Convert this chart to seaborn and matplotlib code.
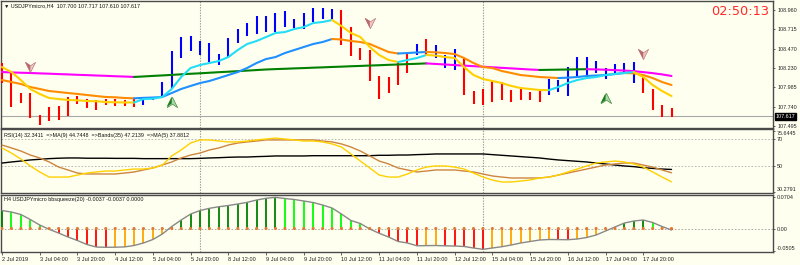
import numpy as np
import matplotlib
matplotlib.use("Agg")
import matplotlib.pyplot as plt
import seaborn as sns
from matplotlib.path import Path
from matplotlib import transforms

# ---------------- data ----------------
bar_high = [108.291, 108.177, 107.912, 107.912, 107.634, 107.735, 107.748, 107.862, 107.874, 107.836,
            107.824, 107.836, 107.836, 107.824, 107.836, 107.862, 107.862, 108.051, 108.442, 108.619,
            108.632, 108.569, 108.543, 108.404, 108.606, 108.720, 108.796, 108.884, 108.884, 108.922,
            108.947, 108.846, 108.922, 108.985, 108.985, 108.972, 108.960, 108.745, 108.480, 108.455,
            108.127, 108.114, 108.316, 108.417, 108.531, 108.594, 108.518, 108.392, 108.467, 108.354,
            107.937, 107.963, 108.076, 108.051, 107.950, 107.963, 107.925, 107.937, 108.089, 108.076,
            108.240, 108.366, 108.366, 108.316, 108.228, 108.278, 108.291, 108.303, 108.114, 107.963,
            107.760, 107.717]
bar_low = [108.038, 107.735, 107.786, 107.596, 107.508, 107.559, 107.571, 107.622, 107.773, 107.723,
           107.697, 107.760, 107.748, 107.748, 107.735, 107.760, 107.824, 107.862, 107.975, 108.354,
           108.442, 108.392, 108.303, 108.266, 108.366, 108.543, 108.632, 108.657, 108.682, 108.682,
           108.745, 108.733, 108.720, 108.809, 108.846, 108.834, 108.518, 108.379, 108.329, 108.064,
           107.836, 107.912, 108.013, 108.165, 108.392, 108.392, 108.354, 108.228, 108.203, 107.887,
           107.773, 107.760, 107.798, 107.824, 107.798, 107.824, 107.824, 107.798, 107.887, 107.925,
           107.874, 108.114, 108.114, 108.165, 108.089, 108.165, 108.165, 108.038, 107.912, 107.697,
           107.609, 107.610]
bar_dir = [-1] * 15 + [1] * 21 + [-1] * 8 + [1, -1, 1, 1, 1] + [-1] * 9 + [1] * 10 + [-1] * 4

ma_fast = [108.240, 108.177, 108.076, 107.963, 107.900, 107.849, 107.836, 107.824, 107.820, 107.811,
           107.808, 107.798, 107.795, 107.793, 107.792, 107.836, 107.840, 107.862, 107.963, 108.114,
           108.228, 108.266, 108.291, 108.316, 108.366, 108.455, 108.531, 108.569, 108.619, 108.670,
           108.682, 108.720, 108.745, 108.796, 108.809, 108.834, 108.758, 108.670, 108.619, 108.493,
           108.392, 108.329, 108.303, 108.329, 108.354, 108.392, 108.385, 108.366, 108.354, 108.240,
           108.139, 108.089, 108.064, 108.038, 108.001, 107.975, 107.963, 107.950, 107.948, 107.988,
           108.038, 108.076, 108.101, 108.114, 108.139, 108.152, 108.165, 108.177, 108.114, 108.013,
           107.937, 107.874]
ma_mid = [108.076, 108.051, 108.026, 107.988, 107.963, 107.937, 107.925, 107.912, 107.900, 107.887,
          107.874, 107.862, 107.858, 107.849, 107.845, 107.851, 107.855, 107.862, 107.912, 107.963,
          108.001, 108.038, 108.064, 108.101, 108.139, 108.177, 108.228, 108.291, 108.341, 108.366,
          108.417, 108.455, 108.493, 108.531, 108.556, 108.594, 108.588, 108.569, 108.556, 108.531,
          108.480, 108.430, 108.411, 108.417, 108.424, 108.430, 108.426, 108.417, 108.404, 108.354,
          108.291, 108.240, 108.228, 108.190, 108.165, 108.139, 108.127, 108.114, 108.108, 108.101,
          108.106, 108.114, 108.127, 108.133, 108.139, 108.152, 108.165, 108.160, 108.139, 108.101,
          108.051, 108.013]
ma_slow = [108.177, 108.172, 108.168, 108.165, 108.160, 108.156, 108.151, 108.147, 108.142, 108.138,
           108.133, 108.129, 108.124, 108.120, 108.115, 108.121, 108.128, 108.134, 108.141, 108.148,
           108.155, 108.161, 108.168, 108.175, 108.181, 108.188, 108.195, 108.202, 108.209, 108.214,
           108.218, 108.223, 108.227, 108.232, 108.236, 108.241, 108.245, 108.250, 108.254, 108.259,
           108.263, 108.268, 108.272, 108.277, 108.281, 108.286, 108.279, 108.272, 108.265, 108.258,
           108.251, 108.244, 108.237, 108.230, 108.223, 108.216, 108.209, 108.203, 108.205, 108.207,
           108.209, 108.211, 108.213, 108.210, 108.206, 108.201, 108.195, 108.188, 108.176, 108.163,
           108.147, 108.127]

sell_x = [3, 39, 68]
sell_y = [108.240, 108.796, 108.404]
buy_x = [18, 64]
buy_y = [107.802, 107.845]

rsi_ma5 = [63.3, 59.5, 55.0, 49.8, 45.3, 41.5, 41.5, 41.5, 43.0, 44.5,
           45.3, 46.0, 46.0, 46.8, 47.5, 47.5, 48.3, 50.5, 57.3, 61.8,
           67.0, 69.3, 69.3, 68.5, 67.8, 67.8, 68.5, 69.3, 70.0, 70.7,
           70.0, 69.3, 68.5, 68.5, 67.8, 66.3, 64.0, 58.8, 53.5, 48.3,
           43.0, 41.5, 41.5, 43.8, 46.8, 49.0, 49.8, 49.8, 49.0, 47.5,
           44.5, 41.5, 39.3, 37.8, 37.8, 38.5, 39.3, 40.8, 41.5, 43.0,
           45.3, 47.5, 49.8, 52.0, 52.8, 53.5, 52.8, 51.3, 49.0, 45.3,
           41.5, 37.9]
rsi_ma9 = [65.5, 63.3, 61.0, 58.0, 55.8, 52.8, 49.0, 46.8, 44.5, 43.8,
           43.8, 43.8, 43.8, 44.5, 45.3, 46.8, 48.3, 50.5, 52.8, 55.8,
           58.0, 59.5, 61.8, 63.3, 65.5, 67.0, 67.8, 68.5, 69.3, 69.3,
           69.3, 69.3, 69.3, 69.3, 68.5, 67.8, 66.3, 64.0, 61.0, 57.3,
           53.5, 51.3, 48.3, 46.8, 45.3, 46.0, 46.8, 46.8, 46.8, 46.0,
           45.3, 43.8, 42.3, 41.5, 40.8, 40.8, 40.8, 40.8, 41.5, 43.0,
           44.5, 46.0, 47.5, 49.0, 50.5, 51.3, 52.0, 52.0, 50.5, 49.0,
           46.8, 44.7]
rsi_bands = [52.0, 52.8, 53.5, 54.3, 54.8, 55.3, 55.6, 55.8, 55.8, 55.6,
             55.6, 55.6, 55.5, 55.5, 55.5, 55.3, 55.3, 55.3, 55.3, 55.3,
             55.3, 55.5, 55.8, 56.0, 56.3, 56.5, 56.5, 56.8, 57.0, 57.3,
             57.3, 57.3, 57.3, 57.5, 57.5, 57.5, 57.5, 57.5, 57.5, 57.5,
             57.8, 57.8, 58.0, 58.0, 58.3, 58.5, 58.8, 58.8, 58.8, 58.8,
             58.8, 58.8, 58.3, 57.8, 57.3, 56.8, 56.3, 55.8, 55.0, 54.3,
             53.8, 53.3, 52.8, 52.0, 51.3, 50.5, 49.8, 49.3, 48.5, 48.0,
             47.5, 47.2]

bbs = [0.0406, 0.0372, 0.0316, 0.0203, 0.0079, -0.0018, -0.0102, -0.0192, -0.0271, -0.0361,
       -0.0418, -0.0424, -0.0422, -0.0415, -0.0384, -0.0327, -0.0248, -0.0124, 0.0045, 0.0192,
       0.0327, 0.0406, 0.0456, 0.0492, 0.0519, 0.0553, 0.0591, 0.0643, 0.0682, 0.0704,
       0.0677, 0.0655, 0.0621, 0.0587, 0.0530, 0.0463, 0.0327, 0.0181, 0.0113, -0.0011,
       -0.0108, -0.0192, -0.0293, -0.0327, -0.0390, -0.0386, -0.0384, -0.0391, -0.0395, -0.0406,
       -0.0440, -0.0470, -0.0440, -0.0411, -0.0372, -0.0327, -0.0293, -0.0260, -0.0248, -0.0250,
       -0.0253, -0.0237, -0.0203, -0.0147, -0.0056, 0.0034, 0.0124, 0.0169, 0.0192, 0.0135,
       0.0045, -0.0034]

date_labels = ["2 Jul 2019", "3 Jul 04:00", "3 Jul 20:00", "4 Jul 12:00", "5 Jul 04:00",
               "5 Jul 20:00", "8 Jul 12:00", "9 Jul 04:00", "9 Jul 20:00", "10 Jul 12:00",
               "11 Jul 04:00", "11 Jul 20:00", "12 Jul 12:00", "15 Jul 04:00", "15 Jul 20:00",
               "16 Jul 12:00", "17 Jul 04:00", "17 Jul 20:00"]
week_starts = [21, 51]
price_ticks = [108.960, 108.715, 108.470, 108.230, 107.985, 107.740, 107.495]
last_price = 107.617
rsi_ticks = [30.2791, 50, 70, 75.6445]
rsi_tick_labels = ["30.2791", "50", "70", "75.6445"]
bbs_ticks = [-0.0505, 0.0, 0.0704]
bbs_tick_labels = ["-0.0505", "0.00", "0.0704"]

title_txt = "\u25BC USDJPYmicro,H4  107.700 107.717 107.610 107.617"
rsi_txt = "RSI(14) 32.3411  =>MA(9) 44.7448  =>Bands(35) 47.2139  =>MA(5) 37.8812"
bbs_txt = "H4 USDJPYmicro bbsqueeze(20) -0.0037 -0.0037 0.0000"
clock_txt = "02:50:13"

# ---------------- style ----------------
sns.set_style("white")
plt.rcParams["font.family"] = ["Liberation Sans", "DejaVu Sans"]
BG = "#FFFFF0"
SPINE = "#4a4a4a"
FS = 3.9

W, H = 800, 265
fig = plt.figure(figsize=(8, 2.65), dpi=100)
fig.patch.set_facecolor(BG)


def rect(top, bottom):
    return [1 / W, 1 - bottom / H, 772 / W, (bottom - top) / H]


ax1 = fig.add_axes(rect(1, 127.5))
ax2 = fig.add_axes(rect(128.9, 193.3))
ax3 = fig.add_axes(rect(194.8, 252.3))

x = np.arange(len(bar_high))
XL = (-0.106, 81.76)

for ax in (ax1, ax2, ax3):
    ax.set_facecolor(BG)
    ax.set_xlim(*XL)
    for s in ax.spines.values():
        s.set_color(SPINE)
        s.set_linewidth(1.0)
        s.set_visible(True)
    ax.yaxis.tick_right()
    ax.tick_params(axis="y", which="both", right=True, left=False, length=1.5, width=0.5,
                   pad=1.5, labelsize=FS, colors="#222222", direction="out")
    ax.tick_params(axis="x", bottom=False, labelbottom=False)
    for w in week_starts:
        ax.axvline(w, color="#9a9a9a", lw=0.8, ls=(0, (1.2, 1.2)), zorder=1)


def two_color_line(ax, xs, vals, up_color, down_color, lw):
    vals = np.asarray(vals, dtype=float)
    up = np.r_[False, np.diff(vals) > 0]
    n = len(vals)
    i = 1
    while i < n:
        j = i
        while j + 1 < n and up[j + 1] == up[i]:
            j += 1
        sns.lineplot(x=xs[i - 1:j + 1], y=vals[i - 1:j + 1], ax=ax,
                     color=up_color if up[i] else down_color, linewidth=lw,
                     estimator=None, sort=False, legend=False, zorder=4)
        i = j + 1


# ---------------- main panel ----------------
ax1.set_ylim(107.4765, 109.074)
ax1.axhline(last_price, color="#a8a8a8", lw=0.8, zorder=2)
bar_colors = ["#0000FF" if d > 0 else "#FF0000" for d in bar_dir]
ax1.vlines(x, bar_low, bar_high, colors=bar_colors, linewidth=1.5, zorder=3)
two_color_line(ax1, x, ma_slow, "#008000", "#FF00FF", 1.5)
two_color_line(ax1, x, ma_mid, "#1E90FF", "#FF8C00", 1.5)
two_color_line(ax1, x, ma_fast, "#22DDF5", "#FFD000", 1.5)

sell_full = Path([(-1, 1), (0, -1), (1, 1), (0, 0.35), (-1, 1)],
                 [Path.MOVETO, Path.LINETO, Path.LINETO, Path.LINETO, Path.CLOSEPOLY])
sell_half = Path([(-1, 1), (0, -1), (0, 0.35), (-1, 1)],
                 [Path.MOVETO, Path.LINETO, Path.LINETO, Path.CLOSEPOLY])
buy_full = Path([(-1, -1), (0, 1), (1, -1), (0, -0.35), (-1, -1)],
                [Path.MOVETO, Path.LINETO, Path.LINETO, Path.LINETO, Path.CLOSEPOLY])
buy_half = Path([(-1, -1), (0, 1), (0, -0.35), (-1, -1)],
                [Path.MOVETO, Path.LINETO, Path.LINETO, Path.CLOSEPOLY])
ax1.scatter(sell_x, sell_y, marker=sell_full, s=55, c="#EDC4C4", edgecolors="#B06A6A",
            linewidths=0.4, zorder=6)
ax1.scatter(sell_x, sell_y, marker=sell_half, s=55, c="#B86A6A", edgecolors="none", zorder=7)
ax1.scatter(buy_x, buy_y, marker=buy_full, s=55, c="#A8D8A8", edgecolors="#2A7A2A",
            linewidths=0.4, zorder=6)
ax1.scatter(buy_x, buy_y, marker=buy_half, s=55, c="#1F7A1F", edgecolors="none", zorder=7)

ax1.set_yticks(price_ticks)
ax1.set_yticklabels([f"{v:.3f}" for v in price_ticks])
blend1 = transforms.blended_transform_factory(ax1.transAxes, ax1.transData)
ax1.text(1.0035, last_price, f"{last_price:.3f}", transform=blend1, color="white",
         fontsize=FS, va="center", ha="left",
         bbox=dict(boxstyle="square,pad=0.2", fc="black", ec="black"), zorder=10)

# ---------------- RSI panel ----------------
ax2.set_ylim(29.33, 77.57)
for lvl in (70, 50):
    ax2.axhline(lvl, color="#b0b0b0", lw=0.6, ls=(0, (2, 2)), zorder=1)
sns.lineplot(x=x, y=rsi_bands, ax=ax2, color="black", linewidth=1.0, estimator=None,
             sort=False, legend=False, zorder=3)
sns.lineplot(x=x, y=rsi_ma9, ax=ax2, color="#CD853F", linewidth=1.0, estimator=None,
             sort=False, legend=False, zorder=4)
sns.lineplot(x=x, y=rsi_ma5, ax=ax2, color="#FFD000", linewidth=1.0, estimator=None,
             sort=False, legend=False, zorder=5)
ax2.set_yticks(rsi_ticks)
ax2.set_yticklabels(rsi_tick_labels)
tl = ax2.get_yticklabels()
tl[0].set_verticalalignment("bottom")
tl[-1].set_verticalalignment("top")

# ---------------- bbsqueeze panel ----------------
ax3.set_ylim(-0.0537, 0.0761)
ax3.axhline(0, color="#a0a0a0", lw=0.6, ls=(0, (2, 2)), zorder=1)
vals = np.asarray(bbs)
prev = np.r_[vals[0] - 1.0, vals[:-1]]
hist_colors = []
for v, p in zip(vals, prev):
    if v >= 0:
        hist_colors.append("#008000" if v > p else "#00FF00")
    else:
        hist_colors.append("#FF0000" if v < p else "#FFA500")
ax3.vlines(x, 0, vals, colors=hist_colors, linewidth=1.3, zorder=3)
sns.lineplot(x=x, y=bbs, ax=ax3, color="#888888", linewidth=1.0, estimator=None,
             sort=False, legend=False, zorder=4)
ax3.scatter(x, np.zeros(len(x)), s=5, c="#E07A35", edgecolors="none", zorder=5)
ax3.set_yticks(bbs_ticks)
ax3.set_yticklabels(bbs_tick_labels)
tl3 = ax3.get_yticklabels()
tl3[0].set_verticalalignment("bottom")

ax3.set_xticks(np.arange(0, len(x), 4))
ax3.set_xticklabels(date_labels, ha="left")
ax3.tick_params(axis="x", bottom=True, labelbottom=True, length=2.2, width=0.5, pad=1.2,
                labelsize=4.1, colors="#222222", direction="out")

# ---------------- texts ----------------
fig.text(4 / W, 1 - 6 / H, title_txt, fontsize=FS, va="center", ha="left", color="#111111")
fig.text(4 / W, 1 - 135.5 / H, rsi_txt, fontsize=FS, va="center", ha="left", color="#111111")
fig.text(4 / W, 1 - 199.5 / H, bbs_txt, fontsize=FS, va="center", ha="left", color="#111111")
fig.text(769.5 / W, 1 - 11.4 / H, clock_txt, fontsize=9.3, va="center", ha="right",
         color="#FF2A2A", family=["DejaVu Sans"])

fig.savefig("out.png", dpi=100, facecolor=BG)
